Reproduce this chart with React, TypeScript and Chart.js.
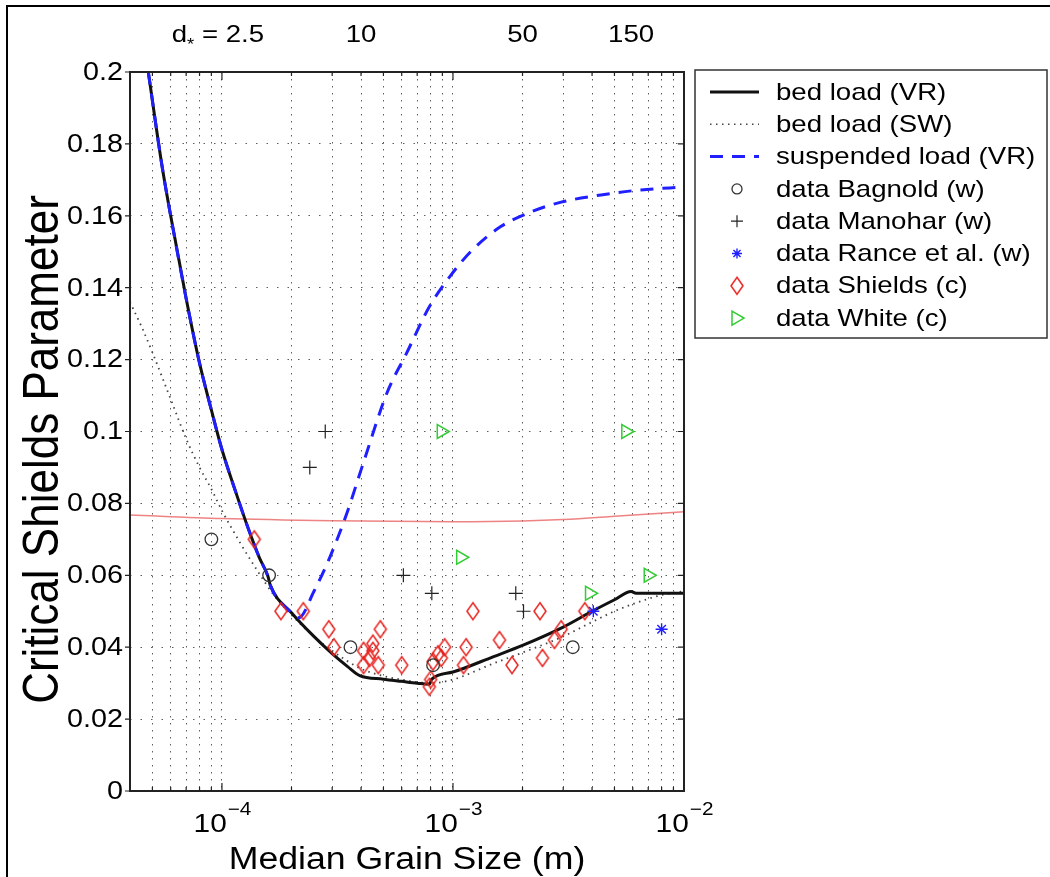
import { useEffect, useRef } from "react";
import { Chart, registerables } from "chart.js";
Chart.register(...registerables);

const SX = 1.15;
const FONT = '"Liberation Sans", Arial, Helvetica, sans-serif';

// ---- curves ----
const bedVR_d = [4.8e-5, 5.5e-5, 6.0e-5, 7.0e-5, 8.0e-5, 9.0e-5, 1.0e-4, 1.15e-4, 1.3e-4, 1.45e-4, 1.58e-4, 1.62e-4, 2.0e-4, 2.5e-4, 3.0e-4, 3.5e-4, 3.95e-4, 5.0e-4, 6.0e-4, 7.0e-4, 7.9e-4, 8.1e-4, 1.0e-3, 1.5e-3, 2.0e-3, 3.0e-3, 4.0e-3, 5.0e-3, 5.9e-3, 6.2e-3, 1.0e-2];
const bedVR_theta = [0.2, 0.174, 0.16, 0.137, 0.119, 0.106, 0.095, 0.083, 0.073, 0.065, 0.0598, 0.0572, 0.0496, 0.043, 0.0382, 0.0346, 0.0321, 0.0311, 0.0305, 0.03, 0.0297, 0.0311, 0.0331, 0.0374, 0.0405, 0.0456, 0.05, 0.0532, 0.0555, 0.055, 0.055];

const bedSW_d = [4.0e-5, 4.5e-5, 5.0e-5, 6.0e-5, 7.0e-5, 8.0e-5, 9.0e-5, 1.0e-4, 1.2e-4, 1.4e-4, 1.7e-4, 2.0e-4, 2.5e-4, 3.0e-4, 4.0e-4, 5.0e-4, 6.0e-4, 8.0e-4, 1.0e-3, 1.5e-3, 2.0e-3, 3.0e-3, 4.0e-3, 5.0e-3, 6.0e-3, 8.0e-3, 1.0e-2];
const bedSW_theta = [0.136, 0.129, 0.122, 0.109, 0.098, 0.09, 0.084, 0.078, 0.069, 0.062, 0.054, 0.049, 0.043, 0.039, 0.034, 0.032, 0.031, 0.03, 0.031, 0.0355, 0.0385, 0.043, 0.047, 0.05, 0.052, 0.0545, 0.0556];

const suspVR_d = [4.8e-5, 5.5e-5, 6.0e-5, 7.0e-5, 8.0e-5, 9.0e-5, 1.0e-4, 1.15e-4, 1.3e-4, 1.45e-4, 1.58e-4, 1.62e-4, 2.0e-4, 2.15e-4, 2.5e-4, 2.94e-4, 3.47e-4, 4.09e-4, 5.2e-4, 6.3e-4, 7.9e-4, 9.8e-4, 1.2e-3, 1.61e-3, 2.18e-3, 2.94e-3, 4.37e-3, 6.5e-3, 1.0e-2];
const suspVR_theta = [0.2, 0.174, 0.16, 0.137, 0.119, 0.106, 0.095, 0.083, 0.073, 0.065, 0.0598, 0.0572, 0.0496, 0.0482, 0.0555, 0.0652, 0.0772, 0.0912, 0.111, 0.1218, 0.1347, 0.1435, 0.1502, 0.157, 0.1611, 0.1638, 0.1658, 0.1672, 0.168];

const red_d = [4e-5, 1e-4, 3e-4, 1e-3, 2e-3, 3e-3, 5e-3, 1e-2];
const red_theta = [0.0768, 0.0758, 0.0752, 0.0749, 0.0751, 0.0755, 0.0764, 0.0777];

// ---- data points ----
const bagnold_d = [9.0e-5, 1.6e-4, 3.6e-4, 8.2e-4, 3.3e-3];
const bagnold_theta = [0.07, 0.06, 0.04, 0.035, 0.04];

const manohar_d = [2.4e-4, 2.8e-4, 6.1e-4, 8.1e-4, 1.87e-3, 2.02e-3];
const manohar_theta = [0.09, 0.1, 0.06, 0.055, 0.055, 0.05];

const rance_d = [4.05e-3, 8.0e-3];
const rance_theta = [0.05, 0.045];

const shields_d = [1.38e-4, 1.8e-4, 2.25e-4, 2.9e-4, 3.05e-4, 4.1e-4, 4.1e-4, 4.35e-4, 4.5e-4, 4.5e-4, 4.75e-4, 4.85e-4, 6.0e-4, 7.9e-4, 8.0e-4, 8.2e-4, 8.6e-4, 8.9e-4, 9.2e-4, 1.11e-3, 1.14e-3, 1.22e-3, 1.59e-3, 1.8e-3, 2.38e-3, 2.44e-3, 2.75e-3, 2.94e-3, 3.72e-3];
const shields_theta = [0.07, 0.05, 0.05, 0.045, 0.04, 0.039, 0.035, 0.037, 0.041, 0.039, 0.035, 0.045, 0.035, 0.029, 0.031, 0.036, 0.038, 0.037, 0.04, 0.035, 0.04, 0.05, 0.042, 0.035, 0.05, 0.037, 0.042, 0.045, 0.05];

const white_d = [8.9e-4, 1.08e-3, 3.9e-3, 5.6e-3, 7.0e-3];
const white_theta = [0.1, 0.065, 0.055, 0.1, 0.06];

// ---- axes ----
const xMin = 4e-5;
const xMax = 1e-2;
const xGrid = [5e-5, 6e-5, 7e-5, 8e-5, 9e-5, 1e-4, 2e-4, 3e-4, 4e-4, 5e-4, 6e-4, 7e-4, 8e-4, 9e-4, 1e-3, 2e-3, 3e-3, 4e-3, 5e-3, 6e-3, 7e-3, 8e-3, 9e-3];
const xMajor = [1e-4, 1e-3, 1e-2];
const xMajorExp = ["\u22124", "\u22123", "\u22122"];
const yTicks = [0, 0.02, 0.04, 0.06, 0.08, 0.1, 0.12, 0.14, 0.16, 0.18, 0.2];
const yTickLabels = ["0", "0.02", "0.04", "0.06", "0.08", "0.1", "0.12", "0.14", "0.16", "0.18", "0.2"];
const topPos = [1e-4, 4e-4, 2e-3, 5.9e-3];
const topText = ["2.5", "10", "50", "150"];
const xTitle = "Median Grain Size (m)";
const yTitle = "Critical Shields Parameter";
const legendLabels = ["bed load (VR)", "bed load (SW)", "suspended load (VR)", "data Bagnold (w)", "data Manohar (w)", "data Rance et al. (w)", "data Shields (c)", "data White (c)"];

const RED = "#e8231f";
const BLUE = "#1f1fff";
const GREEN = "#33cc33";

const pts = (xs: number[], ys: number[]) => xs.map((x, i) => ({ x, y: ys[i] }));

function makeDiamond(): HTMLCanvasElement {
  const c = document.createElement("canvas");
  c.width = 16;
  c.height = 22;
  const g = c.getContext("2d")!;
  g.strokeStyle = RED;
  g.lineWidth = 1.5;
  g.beginPath();
  g.moveTo(8, 2.5);
  g.lineTo(14, 11);
  g.lineTo(8, 19.5);
  g.lineTo(2, 11);
  g.closePath();
  g.stroke();
  return c;
}

function text(ctx: CanvasRenderingContext2D, s: string, x: number, y: number, size: number, align: CanvasTextAlign, baseline: CanvasTextBaseline) {
  ctx.save();
  ctx.translate(x, y);
  ctx.scale(SX, 1);
  ctx.font = `${size}px ${FONT}`;
  ctx.textAlign = align;
  ctx.textBaseline = baseline;
  ctx.fillStyle = "#000";
  ctx.fillText(s, 0, 0);
  ctx.restore();
}
function measure(ctx: CanvasRenderingContext2D, s: string, size: number) {
  ctx.save();
  ctx.font = `${size}px ${FONT}`;
  const w = ctx.measureText(s).width * SX;
  ctx.restore();
  return w;
}

export default function App() {
  const ref = useRef<HTMLCanvasElement>(null);
  useEffect(() => {
    const diamond = makeDiamond();
    const decor = {
      id: "decor",
      afterDraw(chart: any) {
        const ctx: CanvasRenderingContext2D = chart.ctx;
        const { left, right, top, bottom } = chart.chartArea;
        const xs = chart.scales.x;
        const ys = chart.scales.y;
        ctx.save();
        // figure frame
        ctx.strokeStyle = "#000";
        ctx.lineWidth = 2;
        ctx.beginPath();
        ctx.moveTo(7, 2000);
        ctx.lineTo(7, 6);
        ctx.lineTo(2000, 6);
        ctx.stroke();
        // axes box
        ctx.lineWidth = 2;
        ctx.strokeStyle = "#222";
        ctx.strokeRect(left, top, right - left, bottom - top);
        // y ticks
        ctx.lineWidth = 1.2;
        yTicks.forEach((v, i) => {
          const y = ys.getPixelForValue(v);
          ctx.beginPath();
          ctx.moveTo(left - 5, y);
          ctx.lineTo(left, y);
          ctx.moveTo(right, y);
          ctx.lineTo(right - 6, y);
          ctx.stroke();
          text(ctx, yTickLabels[i], left - 7, y + 1, 25, "right", "middle");
        });
        // x ticks
        xGrid.forEach((v) => {
          const x = xs.getPixelForValue(v);
          const len = xMajor.includes(v) ? 8 : 4;
          ctx.beginPath();
          ctx.moveTo(x, bottom);
          ctx.lineTo(x, bottom - len);
          ctx.moveTo(x, top);
          ctx.lineTo(x, top + len);
          ctx.stroke();
        });
        xMajor.forEach((v, i) => {
          const x = xs.getPixelForValue(v);
          const w1 = measure(ctx, "10", 26);
          const w2 = measure(ctx, xMajorExp[i], 18);
          const x0 = x - (w1 + w2) / 2;
          text(ctx, "10", x0, 832, 26, "left", "alphabetic");
          text(ctx, xMajorExp[i], x0 + w1 + 1, 815, 18, "left", "alphabetic");
        });
        // top d* labels
        topPos.forEach((v, i) => {
          const x = xs.getPixelForValue(v);
          if (i === 0) {
            const a = measure(ctx, "d", 24);
            const b = measure(ctx, "*", 16);
            const c = measure(ctx, " = " + topText[0], 24);
            const x0 = x - (a + b + c) / 2 - 4;
            text(ctx, "d", x0, 42, 24, "left", "alphabetic");
            text(ctx, "*", x0 + a, 50, 16, "left", "alphabetic");
            text(ctx, " = " + topText[0], x0 + a + b, 42, 24, "left", "alphabetic");
          } else {
            text(ctx, topText[i], x, 42, 24, "center", "alphabetic");
          }
        });
        // axis titles
        text(ctx, xTitle, (left + right) / 2, 869, 31, "center", "alphabetic");
        ctx.save();
        ctx.translate(44, (top + bottom) / 2 + 18);
        ctx.rotate(-Math.PI / 2);
        ctx.scale(1, SX);
        ctx.font = `44px ${FONT}`;
        ctx.textAlign = "center";
        ctx.textBaseline = "middle";
        ctx.fillStyle = "#000";
        ctx.fillText(yTitle, 0, 0);
        ctx.restore();
        // legend
        ctx.fillStyle = "#fff";
        ctx.fillRect(695, 70, 352, 268);
        ctx.strokeStyle = "#333";
        ctx.lineWidth = 1.5;
        ctx.strokeRect(695, 70, 352, 268);
        legendLabels.forEach((lab, i) => {
          const y = 92 + i * 32.3;
          const cx = 737;
          ctx.save();
          if (i === 0) {
            ctx.strokeStyle = "#111"; ctx.lineWidth = 3;
            ctx.beginPath(); ctx.moveTo(710, y); ctx.lineTo(759, y); ctx.stroke();
          } else if (i === 1) {
            ctx.strokeStyle = "#444"; ctx.lineWidth = 1.6; ctx.setLineDash([1.5, 4.5]);
            ctx.beginPath(); ctx.moveTo(710, y); ctx.lineTo(759, y); ctx.stroke();
          } else if (i === 2) {
            ctx.strokeStyle = BLUE; ctx.lineWidth = 3; ctx.setLineDash([13, 9]);
            ctx.beginPath(); ctx.moveTo(710, y); ctx.lineTo(759, y); ctx.stroke();
          } else if (i === 3) {
            ctx.strokeStyle = "#333"; ctx.lineWidth = 1.3;
            ctx.beginPath(); ctx.arc(cx, y, 5, 0, Math.PI * 2); ctx.stroke();
          } else if (i === 4) {
            ctx.strokeStyle = "#222"; ctx.lineWidth = 1.2;
            ctx.beginPath(); ctx.moveTo(cx - 6, y); ctx.lineTo(cx + 6, y); ctx.moveTo(cx, y - 6); ctx.lineTo(cx, y + 6); ctx.stroke();
          } else if (i === 5) {
            ctx.strokeStyle = BLUE; ctx.lineWidth = 1.4;
            ctx.beginPath();
            for (let k = 0; k < 4; k++) {
              const a = (k * Math.PI) / 4;
              ctx.moveTo(cx - 5 * Math.cos(a), y - 5 * Math.sin(a));
              ctx.lineTo(cx + 5 * Math.cos(a), y + 5 * Math.sin(a));
            }
            ctx.stroke();
          } else if (i === 6) {
            ctx.drawImage(diamond, cx - 8, y - 11);
          } else if (i === 7) {
            ctx.strokeStyle = GREEN; ctx.lineWidth = 1.5;
            ctx.beginPath(); ctx.moveTo(cx - 5, y - 7); ctx.lineTo(cx + 7, y); ctx.lineTo(cx - 5, y + 7); ctx.closePath(); ctx.stroke();
          }
          ctx.restore();
          text(ctx, lab, 776, y + 1, 24, "left", "middle");
        });
        ctx.restore();
      },
    };

    const lineDs = (label: string, xs: number[], ys: number[], color: string, width: number, dash: number[], order: number) => ({
      label,
      data: pts(xs, ys),
      showLine: true,
      borderColor: color,
      backgroundColor: color,
      borderWidth: width,
      borderDash: dash,
      pointRadius: 0,
      fill: false,
      cubicInterpolationMode: "monotone" as const,
      order,
    });
    const markDs = (label: string, xs: number[], ys: number[], color: string, style: any, radius: number, width: number, order: number, rotation = 0) => ({
      label,
      data: pts(xs, ys),
      showLine: false,
      borderColor: color,
      backgroundColor: "rgba(0,0,0,0)",
      borderWidth: width,
      pointStyle: style,
      pointRadius: radius,
      pointRotation: rotation,
      order,
    });

    const chart = new Chart(ref.current!, {
      type: "scatter",
      data: {
        datasets: [
          markDs("data Bagnold (w)", bagnold_d, bagnold_theta, "#333", "circle", 6.3, 1.3, 1),
          markDs("data Manohar (w)", manohar_d, manohar_theta, "#222", "cross", 7, 1.2, 1),
          markDs("data Rance et al. (w)", rance_d, rance_theta, BLUE, "star", 6, 1.4, 1),
          markDs("data Shields (c)", shields_d, shields_theta, RED, diamond, 8, 1.5, 1),
          markDs("data White (c)", white_d, white_theta, GREEN, "triangle", 8, 1.5, 1, 90),
          lineDs("suspended load (VR)", suspVR_d, suspVR_theta, BLUE, 3, [13, 9], 5),
          lineDs("bed load (VR)", bedVR_d, bedVR_theta, "#111", 3, [], 6),
          lineDs("bed load (SW)", bedSW_d, bedSW_theta, "#444", 1.8, [1.5, 4.5], 7),
          lineDs("", red_d, red_theta, "rgba(232,90,90,0.75)", 1.5, [], 8),
        ] as any,
      },
      options: {
        responsive: false,
        animation: false,
        devicePixelRatio: 1,
        layout: { padding: { left: 130, top: 72, right: 1050 - 684, bottom: 877 - 791 } },
        plugins: { legend: { display: false }, tooltip: { enabled: false } },
        scales: {
          x: {
            type: "logarithmic",
            min: xMin,
            max: xMax,
            ticks: { display: false },
            afterBuildTicks: (s: any) => {
              s.ticks = xGrid.map((v) => ({ value: v }));
            },
            afterFit: (s: any) => {
              s.height = 0;
            },
            grid: { drawTicks: false, color: "rgba(40,40,40,0.75)", lineWidth: 1 },
            border: { display: false, dash: [1.5, 5.5] },
          },
          y: {
            type: "linear",
            min: 0,
            max: 0.2,
            ticks: { display: false },
            afterBuildTicks: (s: any) => {
              s.ticks = yTicks.map((v) => ({ value: v }));
            },
            afterFit: (s: any) => {
              s.width = 0;
            },
            grid: { drawTicks: false, color: "rgba(40,40,40,0.75)", lineWidth: 1 },
            border: { display: false, dash: [1.5, 9] },
          },
        },
      },
      plugins: [decor],
    } as any);
    return () => chart.destroy();
  }, []);
  return (
    <canvas
      ref={ref}
      width={1050}
      height={877}
      style={{ position: "fixed", left: 0, top: 0, width: 1050, height: 877, background: "#fff" }}
    />
  );
}
